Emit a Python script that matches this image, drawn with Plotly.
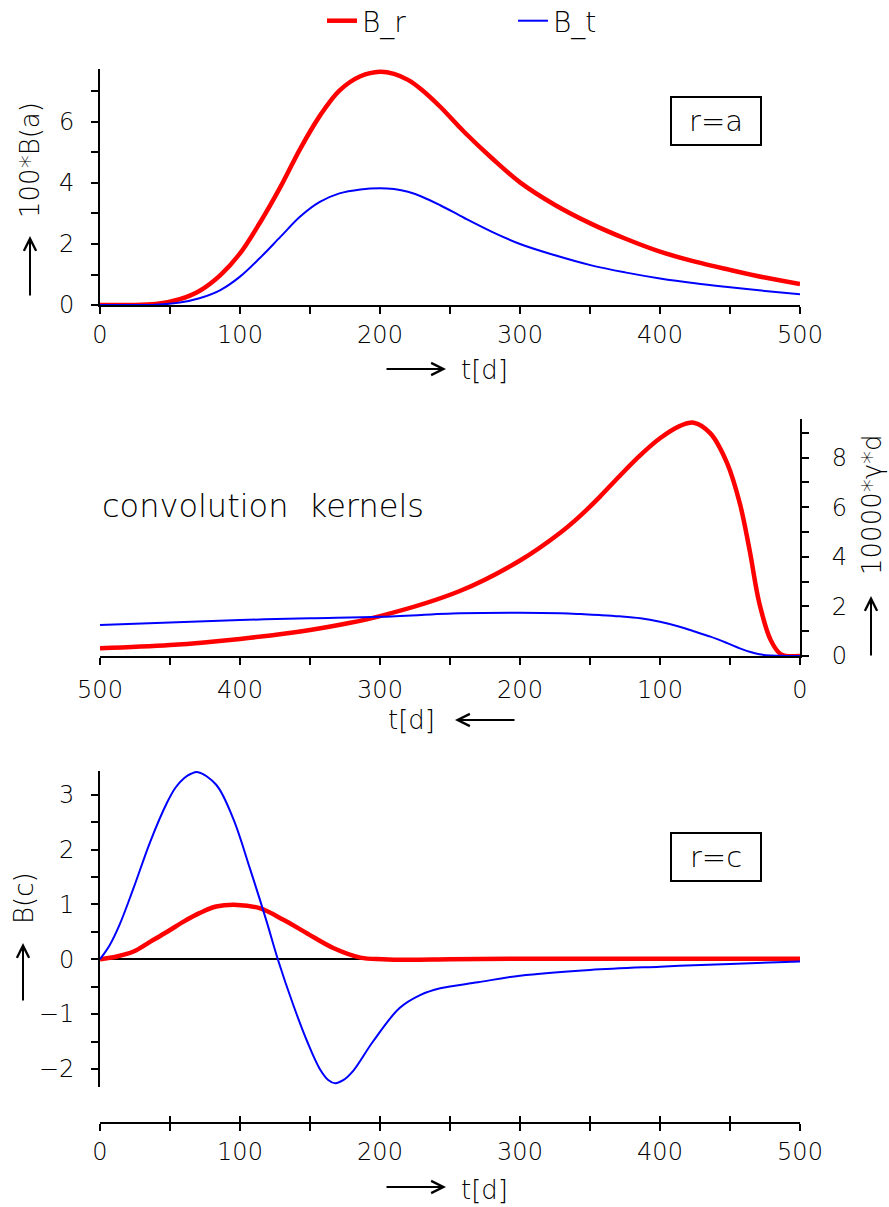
import plotly.graph_objects as go

W, H = 889, 1207
FONT = "DejaVu Sans"

# ---------------- data ----------------
# panel 1: field at r = a (100*B)
t_a = [0, 20, 40, 57, 71, 86, 100, 114, 129, 143, 157, 171, 186, 200, 210, 220, 230, 243,
       260, 280, 300, 325, 351, 375, 400, 425, 450, 475, 500]
br_a = [0, 0.0, 0.03, 0.19, 0.46, 0.98, 1.69, 2.68, 3.88, 5.12, 6.2, 7.03, 7.5, 7.65, 7.58,
        7.38, 7.05, 6.5, 5.68, 4.81, 4.02, 3.28, 2.66, 2.18, 1.75, 1.42, 1.15, 0.9, 0.69]
bt_a = [0, 0.0, 0.01, 0.08, 0.22, 0.49, 0.93, 1.53, 2.24, 2.9, 3.38, 3.66, 3.79, 3.83, 3.80,
        3.71, 3.55, 3.27, 2.86, 2.4, 2.0, 1.63, 1.3, 1.07, 0.87, 0.71, 0.58, 0.46, 0.35]

# panel 2: convolution kernels (10000*gamma*d)
t_k = [0, 10, 14, 21, 29, 36, 43, 52, 64, 76, 86, 100, 114, 129, 143, 157, 171, 200, 243,
       300, 350, 400, 450, 500]
kr_k = [0, 0, 0.08, 0.65, 2.12, 4.27, 6.16, 7.77, 8.98, 9.41, 9.27, 8.78, 8.1, 7.25, 6.42,
        5.65, 4.98, 3.85, 2.62, 1.61, 1.05, 0.69, 0.44, 0.31]
kt_k = [0, 0, 0.01, 0.02, 0.07, 0.17, 0.31, 0.52, 0.78, 1.0, 1.18, 1.38, 1.52, 1.6, 1.65,
        1.69, 1.72, 1.74, 1.72, 1.58, 1.52, 1.45, 1.35, 1.25]

# panel 3: field at r = c
t_ct = [0, 7, 14, 24, 36, 48, 54, 60, 65, 70, 83, 95, 107, 119, 127, 138, 148, 157, 163,
        168, 174, 181, 195, 214, 229, 243, 270, 300, 350, 400, 450, 500]
bt_c = [0, 0.26, 0.63, 1.30, 2.15, 2.86, 3.13, 3.30, 3.38, 3.41, 3.18, 2.57, 1.66, 0.69,
        0.0, -0.83, -1.50, -2.0, -2.2, -2.26, -2.2, -2.03, -1.50, -0.89, -0.65, -0.53,
        -0.42, -0.30, -0.195, -0.135, -0.086, -0.043]
t_cr = [0, 12, 24, 36, 48, 60, 71, 83, 98, 114, 131, 148, 167, 186, 202, 220, 250, 300,
        400, 500]
br_c = [0, 0.05, 0.14, 0.32, 0.50, 0.69, 0.84, 0.96, 0.99, 0.93, 0.72, 0.47, 0.20, 0.03,
        0.0, -0.01, 0.0, 0.01, 0.01, 0.01]

RED, BLUE = "#ff0000", "#0000ff"
RW, BW = 4.5, 2


def px(x):
    return x / W


def py(y):
    return 1 - y / H


fig = go.Figure()
line_r = dict(color=RED, width=RW, shape="spline", smoothing=1.0)
line_b = dict(color=BLUE, width=BW, shape="spline", smoothing=1.0)

fig.add_trace(go.Scatter(x=t_a, y=br_a, mode="lines", line=line_r, name="B_r",
                         xaxis="x", yaxis="y"))
fig.add_trace(go.Scatter(x=t_a, y=bt_a, mode="lines", line=line_b, name="B_t",
                         xaxis="x", yaxis="y"))
fig.add_trace(go.Scatter(x=t_k, y=kr_k, mode="lines", line=line_r, showlegend=False,
                         xaxis="x2", yaxis="y2"))
fig.add_trace(go.Scatter(x=t_k, y=kt_k, mode="lines", line=line_b, showlegend=False,
                         xaxis="x2", yaxis="y2"))
fig.add_trace(go.Scatter(x=t_cr, y=br_c, mode="lines", line=line_r, showlegend=False,
                         xaxis="x3", yaxis="y3"))
fig.add_trace(go.Scatter(x=t_ct, y=bt_c, mode="lines", line=line_b, showlegend=False,
                         xaxis="x3", yaxis="y3"))
# empty trace so the inner-tick axis is drawn
fig.add_trace(go.Scatter(x=[], y=[], mode="lines", showlegend=False, hoverinfo="skip",
                         xaxis="x4", yaxis="y3"))

TF = dict(family=FONT, size=24, color="black", weight=300)
XDOM = [px(100), px(800)]


def axis_common(dtick, minor_dtick, ticks="outside"):
    return dict(
        showline=True, linecolor="black", linewidth=2, mirror=False,
        ticks=ticks, ticklen=7, tickwidth=2, tickcolor="black",
        dtick=dtick, tick0=0, automargin=False,
        minor=dict(dtick=minor_dtick, tick0=0, ticks=ticks, ticklen=7, tickwidth=2,
                   tickcolor="black", showgrid=False),
        showgrid=False, zeroline=False, tickfont=TF, fixedrange=True,
    )


# y ranges slightly padded at the top so thick lines are not clipped;
# domains keep the reference pixel scale
xa1 = axis_common(100, 50)
xa1.update(domain=XDOM, range=[0, 500], anchor="y", ticklabelstandoff=0)
ya1 = axis_common(2, 1)
ya1.update(domain=[py(305), py(68.6)], range=[0, 7.75], anchor="x", ticklabelstandoff=12)

xa2 = axis_common(100, 50)
xa2.update(domain=XDOM, range=[500, 0], anchor="y2", ticklabelstandoff=4)
ya2 = axis_common(2, 1)
ya2.update(domain=[py(656), py(419.2)], range=[0, 9.55], anchor="x2", side="right",
           ticklabelstandoff=18)

xa3 = axis_common(100, 50)
xa3.update(domain=XDOM, range=[0, 500], anchor="free", position=py(1123.3),
           ticklabelstandoff=0)
xa4 = axis_common(100, 50, ticks="inside")
xa4.update(range=[0, 500], anchor="free", position=py(1123.3), overlaying="x3",
           showticklabels=False, showline=False)
ya3 = axis_common(1, 0.5)
ya3.update(domain=[py(1086.5), py(770.5)], range=[-2.32, 3.44], anchor="x3",
           zeroline=True, zerolinecolor="black", zerolinewidth=1.5, ticklabelstandoff=12)

annots = []


def text_ann(txt, x, y, size=26, angle=0, xanchor="center", **kw):
    d = dict(text=txt, x=px(x), y=py(y), xref="paper", yref="paper", showarrow=False,
             font=dict(family=FONT, size=size, color="black", weight=300),
             textangle=angle, xanchor=xanchor, yanchor="middle")
    d.update(kw)
    annots.append(d)


def arrow_ann(hx, hy, dx, dy):
    # arrow head at (hx, hy), tail offset (dx, dy) in pixels
    annots.append(dict(text="", x=px(hx), y=py(hy), xref="paper", yref="paper",
                       showarrow=True, ax=dx, ay=dy, axref="pixel", ayref="pixel",
                       arrowhead=5, arrowsize=1.2, arrowwidth=2, arrowcolor="black",
                       standoff=0, startstandoff=0))


# panel 1 titles
text_ann("100*B(a)", 30, 160, angle=-90)
arrow_ann(30, 236, 0, 61)
arrow_ann(446, 369, -61, 0)
text_ann("t[d]", 485, 370)
text_ann("r=a", 716, 121, size=29, bordercolor="black", borderwidth=2, borderpad=3,
         width=82, height=40)

# panel 2 titles
text_ann("convolution  kernels", 100, 506, size=32, xanchor="left")
text_ann("10000*\u03b3*d", 872, 505, angle=-90)
arrow_ann(871, 596, 0, 61)
text_ann("t[d]", 411, 720)
arrow_ann(455, 720, 61, 0)

# panel 3 titles
text_ann("B(c)", 24, 898, angle=-90)
arrow_ann(23, 943, 0, 59)
arrow_ann(446, 1187, -61, 0)
text_ann("t[d]", 485, 1190)
text_ann("r=c", 716, 857, size=29, bordercolor="black", borderwidth=2, borderpad=3,
         width=82, height=40)

fig.update_layout(
    width=W, height=H,
    margin=dict(l=0, r=0, t=0, b=0, autoexpand=False),
    paper_bgcolor="white", plot_bgcolor="white",
    xaxis=xa1, yaxis=ya1, xaxis2=xa2, yaxis2=ya2, xaxis3=xa3, xaxis4=xa4, yaxis3=ya3,
    annotations=annots,
    showlegend=True,
    legend=dict(orientation="h", x=px(322), xanchor="left", y=py(21), yanchor="middle",
                font=dict(family=FONT, size=28, color="black", weight=300),
                entrywidth=146, entrywidthmode="pixels", bgcolor="rgba(0,0,0,0)"),
    font=dict(family=FONT, color="black", weight=300),
)

fig.write_html("out.html")
